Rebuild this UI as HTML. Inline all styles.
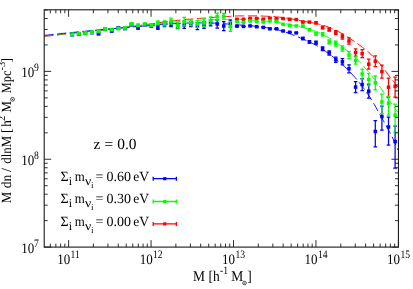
<!DOCTYPE html>
<html><head><meta charset="utf-8"><title>Halo mass function</title>
<style>
html,body{margin:0;padding:0;background:#fff;}
body{width:413px;height:289px;overflow:hidden;font-family:"Liberation Serif",serif;}
svg{display:block;}
svg text{font-family:"Liberation Serif",serif;fill:#000;text-rendering:geometricPrecision;}
</style></head>
<body>
<svg width="413" height="289" viewBox="0 0 413 289">
<rect width="413" height="289" fill="#fff"/>
<defs><clipPath id="c"><rect x="44.2" y="9.8" width="354.25" height="237.29999999999998"/></clipPath></defs>
<g clip-path="url(#c)">
<path d="M44.3,36.4 L45.8,36.2 L47.3,36.1 L48.7,35.9 L50.2,35.8 L51.7,35.6 L53.2,35.4 L54.7,35.3 L56.1,35.1 L57.6,35.0 L59.1,34.8 L60.6,34.6 L62.1,34.5 L63.5,34.3 L65.0,34.1 L66.5,33.9 L68.0,33.8 L69.5,33.6 L70.9,33.4 L72.4,33.3 L73.9,33.1 L75.4,32.9 L76.9,32.8 L78.3,32.6 L79.8,32.4 L81.3,32.3 L82.8,32.1 L84.3,32.0 L85.7,31.8 L87.2,31.7 L88.7,31.5 L90.2,31.4 L91.7,31.2 L93.1,31.0 L94.6,30.9 L96.1,30.7 L97.6,30.6 L99.1,30.4 L100.5,30.2 L102.0,30.1 L103.5,29.9 L105.0,29.7 L106.5,29.6 L107.9,29.4 L109.4,29.2 L110.9,29.1 L112.4,28.9 L113.9,28.7 L115.3,28.6 L116.8,28.4 L118.3,28.2 L119.8,28.0 L121.3,27.9 L122.7,27.7 L124.2,27.5 L125.7,27.3 L127.2,27.1 L128.7,26.9 L130.1,26.7 L131.6,26.5 L133.1,26.3 L134.6,26.1 L136.1,25.9 L137.5,25.7 L139.0,25.5 L140.5,25.3 L142.0,25.1 L143.5,24.9 L144.9,24.7 L146.4,24.5 L147.9,24.3 L149.4,24.1 L150.9,23.9 L152.3,23.7 L153.8,23.5 L155.3,23.3 L156.8,23.0 L158.3,22.8 L159.7,22.6 L161.2,22.4 L162.7,22.2 L164.2,22.0 L165.7,21.9 L167.1,21.7 L168.6,21.5 L170.1,21.3 L171.6,21.1 L173.1,20.9 L174.5,20.8 L176.0,20.6 L177.5,20.4 L179.0,20.2 L180.5,20.1 L181.9,19.9 L183.4,19.7 L184.9,19.6 L186.4,19.4 L187.9,19.3 L189.3,19.2 L190.8,19.1 L192.3,19.0 L193.8,18.8 L195.3,18.7 L196.7,18.6 L198.2,18.5 L199.7,18.4 L201.2,18.3 L202.7,18.2 L204.1,18.1 L205.6,18.0 L207.1,17.8 L208.6,17.7 L210.1,17.6 L211.5,17.5 L213.0,17.4 L214.5,17.3 L216.0,17.2 L217.5,17.1 L218.9,17.0 L220.4,16.9 L221.9,16.8 L223.4,16.8 L224.8,16.7 L226.3,16.6 L227.8,16.5 L229.3,16.4 L230.8,16.3 L232.2,16.2 L233.7,16.1 L235.2,16.0 L236.7,16.0 L238.2,15.9 L239.6,15.9 L241.1,15.9 L242.6,15.9 L244.1,15.9 L245.6,15.9 L247.0,15.9 L248.5,15.9 L250.0,15.9 L251.5,15.9 L253.0,15.9 L254.4,15.9 L255.9,15.9 L257.4,15.9 L258.9,15.9 L260.4,16.0 L261.8,16.0 L263.3,16.1 L264.8,16.2 L266.3,16.2 L267.8,16.3 L269.2,16.4 L270.7,16.4 L272.2,16.5 L273.7,16.6 L275.2,16.7 L276.6,16.9 L278.1,17.0 L279.6,17.2 L281.1,17.3 L282.6,17.5 L284.0,17.7 L285.5,17.9 L287.0,18.1 L288.5,18.3 L290.0,18.6 L291.4,18.8 L292.9,19.1 L294.4,19.4 L295.9,19.7 L297.4,20.0 L298.8,20.3 L300.3,20.6 L301.8,20.8 L303.3,21.1 L304.8,21.3 L306.2,21.6 L307.7,21.9 L309.2,22.1 L310.7,22.4 L312.2,22.7 L313.6,23.0 L315.1,23.3 L316.6,23.6 L318.1,24.0 L319.6,24.3 L321.0,24.7 L322.5,25.1 L324.0,25.6 L325.5,26.0 L327.0,26.5 L328.4,27.1 L329.9,27.6 L331.4,28.2 L332.9,28.9 L334.4,29.6 L335.8,30.3 L337.3,31.0 L338.8,31.8 L340.3,32.6 L341.8,33.4 L343.2,34.3 L344.7,35.2 L346.2,36.2 L347.7,37.2 L349.2,38.2 L350.6,39.1 L352.1,40.0 L353.6,40.9 L355.1,41.9 L356.6,42.9 L358.0,44.0 L359.5,45.1 L361.0,46.3 L362.5,47.4 L364.0,48.5 L365.4,49.7 L366.9,50.9 L368.4,52.1 L369.9,53.5 L371.4,54.8 L372.8,56.3 L374.3,57.7 L375.8,59.2 L377.3,60.8 L378.8,62.4 L380.2,64.0 L381.7,65.8 L383.2,67.8 L384.7,69.8 L386.2,71.8 L387.6,73.9 L389.1,75.9 L390.6,77.8 L392.1,79.6 L393.6,81.5 L395.0,83.5 L396.5,85.4 L398.0,87.3" stroke="#ff0000" stroke-width="0.95" fill="none" stroke-dasharray="9.2,3.6"/>
<path d="M44.3,35.9 L45.8,35.7 L47.3,35.6 L48.7,35.4 L50.2,35.3 L51.7,35.1 L53.2,34.9 L54.7,34.8 L56.1,34.6 L57.6,34.5 L59.1,34.3 L60.6,34.1 L62.1,34.0 L63.5,33.8 L65.0,33.7 L66.5,33.5 L68.0,33.3 L69.5,33.2 L70.9,33.0 L72.4,32.9 L73.9,32.7 L75.4,32.5 L76.9,32.4 L78.3,32.2 L79.8,32.1 L81.3,31.9 L82.8,31.8 L84.3,31.6 L85.7,31.5 L87.2,31.3 L88.7,31.2 L90.2,31.0 L91.7,30.9 L93.1,30.7 L94.6,30.6 L96.1,30.4 L97.6,30.3 L99.1,30.1 L100.5,29.9 L102.0,29.8 L103.5,29.6 L105.0,29.5 L106.5,29.3 L107.9,29.2 L109.4,29.0 L110.9,28.9 L112.4,28.7 L113.9,28.6 L115.3,28.4 L116.8,28.3 L118.3,28.1 L119.8,27.9 L121.3,27.8 L122.7,27.6 L124.2,27.5 L125.7,27.3 L127.2,27.2 L128.7,27.0 L130.1,26.9 L131.6,26.7 L133.1,26.6 L134.6,26.4 L136.1,26.3 L137.5,26.1 L139.0,26.0 L140.5,25.8 L142.0,25.7 L143.5,25.5 L144.9,25.4 L146.4,25.2 L147.9,25.0 L149.4,24.9 L150.9,24.7 L152.3,24.5 L153.8,24.3 L155.3,24.2 L156.8,24.0 L158.3,23.8 L159.7,23.6 L161.2,23.5 L162.7,23.3 L164.2,23.2 L165.7,23.0 L167.1,22.9 L168.6,22.7 L170.1,22.6 L171.6,22.4 L173.1,22.3 L174.5,22.1 L176.0,22.0 L177.5,21.9 L179.0,21.7 L180.5,21.6 L181.9,21.5 L183.4,21.4 L184.9,21.2 L186.4,21.1 L187.9,21.0 L189.3,20.9 L190.8,20.8 L192.3,20.7 L193.8,20.6 L195.3,20.5 L196.7,20.5 L198.2,20.4 L199.7,20.3 L201.2,20.2 L202.7,20.2 L204.1,20.1 L205.6,20.1 L207.1,20.0 L208.6,19.9 L210.1,19.9 L211.5,19.8 L213.0,19.8 L214.5,19.8 L216.0,19.7 L217.5,19.7 L218.9,19.6 L220.4,19.6 L221.9,19.6 L223.4,19.5 L224.8,19.5 L226.3,19.5 L227.8,19.5 L229.3,19.5 L230.8,19.5 L232.2,19.5 L233.7,19.5 L235.2,19.5 L236.7,19.6 L238.2,19.6 L239.6,19.6 L241.1,19.6 L242.6,19.7 L244.1,19.7 L245.6,19.7 L247.0,19.8 L248.5,19.9 L250.0,19.9 L251.5,20.0 L253.0,20.1 L254.4,20.2 L255.9,20.3 L257.4,20.4 L258.9,20.5 L260.4,20.6 L261.8,20.7 L263.3,20.9 L264.8,21.0 L266.3,21.2 L267.8,21.4 L269.2,21.5 L270.7,21.7 L272.2,21.8 L273.7,22.0 L275.2,22.2 L276.6,22.4 L278.1,22.6 L279.6,22.8 L281.1,23.0 L282.6,23.2 L284.0,23.4 L285.5,23.7 L287.0,23.9 L288.5,24.2 L290.0,24.5 L291.4,24.8 L292.9,25.1 L294.4,25.5 L295.9,25.8 L297.4,26.2 L298.8,26.5 L300.3,26.9 L301.8,27.2 L303.3,27.6 L304.8,28.0 L306.2,28.4 L307.7,28.8 L309.2,29.2 L310.7,29.6 L312.2,30.1 L313.6,30.6 L315.1,31.1 L316.6,31.6 L318.1,32.2 L319.6,32.8 L321.0,33.5 L322.5,34.3 L324.0,35.1 L325.5,35.9 L327.0,36.7 L328.4,37.5 L329.9,38.4 L331.4,39.3 L332.9,40.3 L334.4,41.3 L335.8,42.3 L337.3,43.3 L338.8,44.4 L340.3,45.4 L341.8,46.5 L343.2,47.6 L344.7,48.8 L346.2,49.9 L347.7,51.1 L349.2,52.3 L350.6,53.6 L352.1,54.8 L353.6,56.2 L355.1,57.5 L356.6,58.9 L358.0,60.4 L359.5,61.9 L361.0,63.5 L362.5,65.1 L364.0,66.7 L365.4,68.4 L366.9,70.1 L368.4,71.8 L369.9,73.6 L371.4,75.4 L372.8,77.2 L374.3,79.1 L375.8,81.0 L377.3,83.0 L378.8,85.0 L380.2,87.2 L381.7,89.4 L383.2,91.6 L384.7,93.9 L386.2,96.1 L387.6,98.3 L389.1,100.4 L390.6,102.4 L392.1,104.5 L393.6,106.5 L395.0,108.5 L396.5,110.5 L398.0,112.5" stroke="#00ff00" stroke-width="0.95" fill="none" stroke-dasharray="9.2,3.6"/>
<path d="M44.3,35.4 L45.8,35.2 L47.3,35.1 L48.7,34.9 L50.2,34.8 L51.7,34.6 L53.2,34.4 L54.7,34.3 L56.1,34.1 L57.6,34.0 L59.1,33.8 L60.6,33.6 L62.1,33.5 L63.5,33.3 L65.0,33.2 L66.5,33.0 L68.0,32.9 L69.5,32.8 L70.9,32.6 L72.4,32.5 L73.9,32.3 L75.4,32.2 L76.9,32.0 L78.3,31.9 L79.8,31.7 L81.3,31.6 L82.8,31.4 L84.3,31.3 L85.7,31.2 L87.2,31.0 L88.7,30.9 L90.2,30.7 L91.7,30.6 L93.1,30.4 L94.6,30.3 L96.1,30.2 L97.6,30.0 L99.1,29.9 L100.5,29.8 L102.0,29.6 L103.5,29.5 L105.0,29.3 L106.5,29.2 L107.9,29.1 L109.4,28.9 L110.9,28.8 L112.4,28.7 L113.9,28.6 L115.3,28.4 L116.8,28.3 L118.3,28.2 L119.8,28.0 L121.3,27.9 L122.7,27.8 L124.2,27.7 L125.7,27.5 L127.2,27.4 L128.7,27.3 L130.1,27.2 L131.6,27.1 L133.1,27.0 L134.6,26.8 L136.1,26.7 L137.5,26.6 L139.0,26.5 L140.5,26.4 L142.0,26.3 L143.5,26.2 L144.9,26.0 L146.4,25.9 L147.9,25.8 L149.4,25.7 L150.9,25.5 L152.3,25.4 L153.8,25.2 L155.3,25.1 L156.8,24.9 L158.3,24.8 L159.7,24.6 L161.2,24.5 L162.7,24.4 L164.2,24.3 L165.7,24.2 L167.1,24.1 L168.6,24.0 L170.1,23.9 L171.6,23.8 L173.1,23.7 L174.5,23.6 L176.0,23.5 L177.5,23.5 L179.0,23.4 L180.5,23.3 L181.9,23.3 L183.4,23.2 L184.9,23.1 L186.4,23.1 L187.9,23.0 L189.3,23.0 L190.8,23.0 L192.3,23.0 L193.8,23.0 L195.3,22.9 L196.7,22.9 L198.2,22.9 L199.7,22.9 L201.2,22.9 L202.7,22.9 L204.1,22.9 L205.6,22.9 L207.1,22.9 L208.6,22.9 L210.1,23.0 L211.5,23.0 L213.0,23.1 L214.5,23.1 L216.0,23.2 L217.5,23.3 L218.9,23.3 L220.4,23.4 L221.9,23.5 L223.4,23.6 L224.8,23.7 L226.3,23.9 L227.8,24.0 L229.3,24.2 L230.8,24.3 L232.2,24.5 L233.7,24.6 L235.2,24.7 L236.7,24.8 L238.2,24.9 L239.6,25.0 L241.1,25.1 L242.6,25.2 L244.1,25.3 L245.6,25.4 L247.0,25.5 L248.5,25.6 L250.0,25.7 L251.5,25.8 L253.0,26.0 L254.4,26.1 L255.9,26.3 L257.4,26.4 L258.9,26.6 L260.4,26.8 L261.8,27.0 L263.3,27.2 L264.8,27.4 L266.3,27.6 L267.8,27.8 L269.2,28.1 L270.7,28.4 L272.2,28.7 L273.7,29.0 L275.2,29.3 L276.6,29.7 L278.1,30.0 L279.6,30.4 L281.1,30.8 L282.6,31.2 L284.0,31.7 L285.5,32.2 L287.0,32.7 L288.5,33.2 L290.0,33.8 L291.4,34.4 L292.9,34.9 L294.4,35.5 L295.9,36.1 L297.4,36.7 L298.8,37.3 L300.3,38.0 L301.8,38.6 L303.3,39.2 L304.8,39.8 L306.2,40.5 L307.7,41.2 L309.2,41.8 L310.7,42.5 L312.2,43.3 L313.6,44.0 L315.1,44.8 L316.6,45.6 L318.1,46.4 L319.6,47.3 L321.0,48.3 L322.5,49.3 L324.0,50.3 L325.5,51.3 L327.0,52.4 L328.4,53.4 L329.9,54.5 L331.4,55.6 L332.9,56.8 L334.4,57.9 L335.8,59.1 L337.3,60.3 L338.8,61.6 L340.3,62.8 L341.8,64.1 L343.2,65.5 L344.7,66.8 L346.2,68.2 L347.7,69.7 L349.2,71.2 L350.6,72.7 L352.1,74.2 L353.6,75.9 L355.1,77.5 L356.6,79.3 L358.0,81.0 L359.5,82.9 L361.0,84.8 L362.5,86.8 L364.0,88.8 L365.4,90.8 L366.9,93.0 L368.4,95.1 L369.9,97.4 L371.4,99.6 L372.8,102.0 L374.3,104.5 L375.8,107.1 L377.3,109.8 L378.8,112.5 L380.2,115.1 L381.7,117.8 L383.2,120.4 L384.7,123.0 L386.2,125.6 L387.6,128.3 L389.1,131.1 L390.6,134.0 L392.1,136.9 L393.6,139.9 L395.0,143.1 L396.5,146.5 L398.0,150.0" stroke="#0000ff" stroke-width="0.95" fill="none" stroke-dasharray="9.2,3.6"/>
<path d="M234.8,19.3h4.2" stroke="#ff0000" stroke-width="1.4" fill="none"/>
<rect x="235.20" y="17.55" width="3.5" height="3.5" fill="#ff0000"/>
<path d="M241.4,19.3h4.2" stroke="#ff0000" stroke-width="1.4" fill="none"/>
<rect x="241.79" y="17.55" width="3.5" height="3.5" fill="#ff0000"/>
<path d="M248.0,18.5h4.2" stroke="#ff0000" stroke-width="1.4" fill="none"/>
<rect x="248.38" y="16.75" width="3.5" height="3.5" fill="#ff0000"/>
<path d="M254.6,18.5h4.2" stroke="#ff0000" stroke-width="1.4" fill="none"/>
<rect x="254.97" y="16.75" width="3.5" height="3.5" fill="#ff0000"/>
<path d="M261.2,19.2h4.2" stroke="#ff0000" stroke-width="1.4" fill="none"/>
<rect x="261.56" y="17.45" width="3.5" height="3.5" fill="#ff0000"/>
<path d="M267.8,18.2h4.2" stroke="#ff0000" stroke-width="1.4" fill="none"/>
<rect x="268.15" y="16.45" width="3.5" height="3.5" fill="#ff0000"/>
<path d="M274.4,18.8h4.2" stroke="#ff0000" stroke-width="1.4" fill="none"/>
<rect x="274.74" y="17.05" width="3.5" height="3.5" fill="#ff0000"/>
<path d="M281.0,18.6h4.2" stroke="#ff0000" stroke-width="1.4" fill="none"/>
<rect x="281.33" y="16.85" width="3.5" height="3.5" fill="#ff0000"/>
<path d="M287.6,19.3h4.2" stroke="#ff0000" stroke-width="1.4" fill="none"/>
<rect x="287.92" y="17.55" width="3.5" height="3.5" fill="#ff0000"/>
<path d="M294.2,19.6h4.2" stroke="#ff0000" stroke-width="1.4" fill="none"/>
<rect x="294.51" y="17.85" width="3.5" height="3.5" fill="#ff0000"/>
<path d="M300.8,22.1h4.2" stroke="#ff0000" stroke-width="1.4" fill="none"/>
<rect x="301.10" y="20.35" width="3.5" height="3.5" fill="#ff0000"/>
<path d="M307.3,22.1h4.2" stroke="#ff0000" stroke-width="1.4" fill="none"/>
<rect x="307.69" y="20.35" width="3.5" height="3.5" fill="#ff0000"/>
<path d="M316.0,21.8V23.8M314.2,21.8h3.6M314.2,23.8h3.6" stroke="#ff0000" stroke-width="1.25" fill="none"/>
<rect x="314.28" y="21.05" width="3.5" height="3.5" fill="#ff0000"/>
<path d="M322.6,26.2V28.8M320.8,26.2h3.6M320.8,28.8h3.6" stroke="#ff0000" stroke-width="1.25" fill="none"/>
<rect x="320.87" y="25.75" width="3.5" height="3.5" fill="#ff0000"/>
<path d="M329.2,27.9V31.1M327.4,27.9h3.6M327.4,31.1h3.6" stroke="#ff0000" stroke-width="1.25" fill="none"/>
<rect x="327.46" y="27.75" width="3.5" height="3.5" fill="#ff0000"/>
<path d="M335.8,30.6V34.6M334.0,30.6h3.6M334.0,34.6h3.6" stroke="#ff0000" stroke-width="1.25" fill="none"/>
<rect x="334.05" y="30.85" width="3.5" height="3.5" fill="#ff0000"/>
<path d="M342.4,34.0V39.2M340.6,34.0h3.6M340.6,39.2h3.6" stroke="#ff0000" stroke-width="1.25" fill="none"/>
<rect x="340.64" y="34.85" width="3.5" height="3.5" fill="#ff0000"/>
<path d="M349.0,37.8V44.2M347.2,37.8h3.6M347.2,44.2h3.6" stroke="#ff0000" stroke-width="1.25" fill="none"/>
<rect x="347.23" y="39.25" width="3.5" height="3.5" fill="#ff0000"/>
<path d="M355.6,48.8V56.2M353.8,48.8h3.6M353.8,56.2h3.6" stroke="#ff0000" stroke-width="1.25" fill="none"/>
<rect x="353.82" y="50.75" width="3.5" height="3.5" fill="#ff0000"/>
<path d="M362.2,49.7V57.7M360.4,49.7h3.6M360.4,57.7h3.6" stroke="#ff0000" stroke-width="1.25" fill="none"/>
<rect x="360.41" y="51.95" width="3.5" height="3.5" fill="#ff0000"/>
<path d="M368.8,59.2V69.2M366.9,59.2h3.6M366.9,69.2h3.6" stroke="#ff0000" stroke-width="1.25" fill="none"/>
<rect x="367.00" y="62.45" width="3.5" height="3.5" fill="#ff0000"/>
<path d="M375.3,55.8V66.6M373.5,55.8h3.6M373.5,66.6h3.6" stroke="#ff0000" stroke-width="1.25" fill="none"/>
<rect x="373.59" y="59.45" width="3.5" height="3.5" fill="#ff0000"/>
<path d="M381.9,65.1V78.1M380.1,65.1h3.6M380.1,78.1h3.6" stroke="#ff0000" stroke-width="1.25" fill="none"/>
<rect x="380.18" y="69.85" width="3.5" height="3.5" fill="#ff0000"/>
<path d="M388.5,78.0V97.2M386.7,78.0h3.6M386.7,97.2h3.6" stroke="#ff0000" stroke-width="1.25" fill="none"/>
<rect x="386.77" y="85.45" width="3.5" height="3.5" fill="#ff0000"/>
<path d="M395.1,77.0V97.0M393.3,77.0h3.6M393.3,97.0h3.6" stroke="#ff0000" stroke-width="1.25" fill="none"/>
<rect x="393.36" y="84.55" width="3.5" height="3.5" fill="#ff0000"/>
<rect x="70.25" y="32.65" width="3.9" height="3.9" fill="#0000ff"/>
<rect x="76.84" y="32.05" width="3.9" height="3.9" fill="#0000ff"/>
<rect x="83.43" y="31.35" width="3.9" height="3.9" fill="#0000ff"/>
<rect x="90.02" y="30.55" width="3.9" height="3.9" fill="#0000ff"/>
<rect x="96.61" y="31.75" width="3.9" height="3.9" fill="#0000ff"/>
<rect x="103.20" y="27.35" width="3.9" height="3.9" fill="#0000ff"/>
<rect x="109.79" y="28.95" width="3.9" height="3.9" fill="#0000ff"/>
<rect x="116.38" y="26.05" width="3.9" height="3.9" fill="#0000ff"/>
<rect x="122.97" y="26.45" width="3.9" height="3.9" fill="#0000ff"/>
<rect x="129.56" y="22.75" width="3.9" height="3.9" fill="#0000ff"/>
<path d="M138.1,27.0V29.0M136.3,27.0h3.6M136.3,29.0h3.6" stroke="#0000ff" stroke-width="1.25" fill="none"/>
<rect x="136.35" y="26.25" width="3.5" height="3.5" fill="#0000ff"/>
<path d="M144.7,23.7V25.7M142.9,23.7h3.6M142.9,25.7h3.6" stroke="#0000ff" stroke-width="1.25" fill="none"/>
<rect x="142.94" y="22.95" width="3.5" height="3.5" fill="#0000ff"/>
<path d="M151.3,24.9V26.9M149.5,24.9h3.6M149.5,26.9h3.6" stroke="#0000ff" stroke-width="1.25" fill="none"/>
<rect x="149.53" y="24.15" width="3.5" height="3.5" fill="#0000ff"/>
<path d="M157.9,25.3V29.3M156.1,25.3h3.6M156.1,29.3h3.6" stroke="#0000ff" stroke-width="1.25" fill="none"/>
<rect x="156.12" y="25.55" width="3.5" height="3.5" fill="#0000ff"/>
<path d="M164.5,22.1V26.7M162.7,22.1h3.6M162.7,26.7h3.6" stroke="#0000ff" stroke-width="1.25" fill="none"/>
<rect x="162.71" y="22.65" width="3.5" height="3.5" fill="#0000ff"/>
<path d="M171.1,22.2V26.6M169.2,22.2h3.6M169.2,26.6h3.6" stroke="#0000ff" stroke-width="1.25" fill="none"/>
<rect x="169.30" y="22.65" width="3.5" height="3.5" fill="#0000ff"/>
<path d="M177.6,23.5V28.5M175.8,23.5h3.6M175.8,28.5h3.6" stroke="#0000ff" stroke-width="1.25" fill="none"/>
<rect x="175.89" y="24.25" width="3.5" height="3.5" fill="#0000ff"/>
<path d="M184.2,21.6V28.4M182.4,21.6h3.6M182.4,28.4h3.6" stroke="#0000ff" stroke-width="1.25" fill="none"/>
<rect x="182.48" y="23.25" width="3.5" height="3.5" fill="#0000ff"/>
<path d="M190.8,21.7V26.7M189.0,21.7h3.6M189.0,26.7h3.6" stroke="#0000ff" stroke-width="1.25" fill="none"/>
<rect x="189.07" y="22.45" width="3.5" height="3.5" fill="#0000ff"/>
<path d="M197.4,22.5V29.5M195.6,22.5h3.6M195.6,29.5h3.6" stroke="#0000ff" stroke-width="1.25" fill="none"/>
<rect x="195.66" y="24.25" width="3.5" height="3.5" fill="#0000ff"/>
<path d="M204.0,21.7V28.3M202.2,21.7h3.6M202.2,28.3h3.6" stroke="#0000ff" stroke-width="1.25" fill="none"/>
<rect x="202.25" y="23.25" width="3.5" height="3.5" fill="#0000ff"/>
<path d="M210.6,19.8V25.8M208.8,19.8h3.6M208.8,25.8h3.6" stroke="#0000ff" stroke-width="1.25" fill="none"/>
<rect x="208.84" y="21.05" width="3.5" height="3.5" fill="#0000ff"/>
<path d="M217.2,20.0V28.0M215.4,20.0h3.6M215.4,28.0h3.6" stroke="#0000ff" stroke-width="1.25" fill="none"/>
<rect x="215.43" y="22.25" width="3.5" height="3.5" fill="#0000ff"/>
<path d="M223.8,21.5V30.5M222.0,21.5h3.6M222.0,30.5h3.6" stroke="#0000ff" stroke-width="1.25" fill="none"/>
<rect x="222.02" y="24.25" width="3.5" height="3.5" fill="#0000ff"/>
<path d="M230.4,20.0V26.8M228.6,20.0h3.6M228.6,26.8h3.6" stroke="#0000ff" stroke-width="1.25" fill="none"/>
<rect x="228.61" y="21.65" width="3.5" height="3.5" fill="#0000ff"/>
<path d="M234.8,26.2h4.2" stroke="#0000ff" stroke-width="1.4" fill="none"/>
<rect x="235.20" y="24.45" width="3.5" height="3.5" fill="#0000ff"/>
<path d="M241.4,26.4h4.2" stroke="#0000ff" stroke-width="1.4" fill="none"/>
<rect x="241.79" y="24.65" width="3.5" height="3.5" fill="#0000ff"/>
<path d="M248.0,25.9h4.2" stroke="#0000ff" stroke-width="1.4" fill="none"/>
<rect x="248.38" y="24.15" width="3.5" height="3.5" fill="#0000ff"/>
<path d="M254.6,26.7h4.2" stroke="#0000ff" stroke-width="1.4" fill="none"/>
<rect x="254.97" y="24.95" width="3.5" height="3.5" fill="#0000ff"/>
<path d="M261.2,27.4h4.2" stroke="#0000ff" stroke-width="1.4" fill="none"/>
<rect x="261.56" y="25.65" width="3.5" height="3.5" fill="#0000ff"/>
<path d="M267.8,28.8h4.2" stroke="#0000ff" stroke-width="1.4" fill="none"/>
<rect x="268.15" y="27.05" width="3.5" height="3.5" fill="#0000ff"/>
<path d="M274.4,28.8h4.2" stroke="#0000ff" stroke-width="1.4" fill="none"/>
<rect x="274.74" y="27.05" width="3.5" height="3.5" fill="#0000ff"/>
<path d="M281.0,31.0h4.2" stroke="#0000ff" stroke-width="1.4" fill="none"/>
<rect x="281.33" y="29.25" width="3.5" height="3.5" fill="#0000ff"/>
<path d="M287.6,32.3h4.2" stroke="#0000ff" stroke-width="1.4" fill="none"/>
<rect x="287.92" y="30.55" width="3.5" height="3.5" fill="#0000ff"/>
<path d="M294.2,32.9h4.2" stroke="#0000ff" stroke-width="1.4" fill="none"/>
<rect x="294.51" y="31.15" width="3.5" height="3.5" fill="#0000ff"/>
<path d="M302.9,37.4V39.6M301.1,37.4h3.6M301.1,39.6h3.6" stroke="#0000ff" stroke-width="1.25" fill="none"/>
<rect x="301.10" y="36.75" width="3.5" height="3.5" fill="#0000ff"/>
<path d="M309.4,40.6V43.2M307.6,40.6h3.6M307.6,43.2h3.6" stroke="#0000ff" stroke-width="1.25" fill="none"/>
<rect x="307.69" y="40.15" width="3.5" height="3.5" fill="#0000ff"/>
<path d="M316.0,41.2V44.2M314.2,41.2h3.6M314.2,44.2h3.6" stroke="#0000ff" stroke-width="1.25" fill="none"/>
<rect x="314.28" y="40.95" width="3.5" height="3.5" fill="#0000ff"/>
<path d="M322.6,46.9V50.5M320.8,46.9h3.6M320.8,50.5h3.6" stroke="#0000ff" stroke-width="1.25" fill="none"/>
<rect x="320.87" y="46.95" width="3.5" height="3.5" fill="#0000ff"/>
<path d="M329.2,50.8V55.0M327.4,50.8h3.6M327.4,55.0h3.6" stroke="#0000ff" stroke-width="1.25" fill="none"/>
<rect x="327.46" y="51.15" width="3.5" height="3.5" fill="#0000ff"/>
<path d="M335.8,57.1V62.3M334.0,57.1h3.6M334.0,62.3h3.6" stroke="#0000ff" stroke-width="1.25" fill="none"/>
<rect x="334.05" y="57.95" width="3.5" height="3.5" fill="#0000ff"/>
<path d="M342.4,58.7V64.9M340.6,58.7h3.6M340.6,64.9h3.6" stroke="#0000ff" stroke-width="1.25" fill="none"/>
<rect x="340.64" y="60.05" width="3.5" height="3.5" fill="#0000ff"/>
<path d="M349.0,64.8V72.8M347.2,64.8h3.6M347.2,72.8h3.6" stroke="#0000ff" stroke-width="1.25" fill="none"/>
<rect x="347.23" y="67.05" width="3.5" height="3.5" fill="#0000ff"/>
<path d="M355.6,81.6V92.6M353.8,81.6h3.6M353.8,92.6h3.6" stroke="#0000ff" stroke-width="1.25" fill="none"/>
<rect x="353.82" y="85.35" width="3.5" height="3.5" fill="#0000ff"/>
<path d="M362.2,78.6V90.6M360.4,78.6h3.6M360.4,90.6h3.6" stroke="#0000ff" stroke-width="1.25" fill="none"/>
<rect x="360.41" y="82.85" width="3.5" height="3.5" fill="#0000ff"/>
<path d="M368.8,84.2V98.2M366.9,84.2h3.6M366.9,98.2h3.6" stroke="#0000ff" stroke-width="1.25" fill="none"/>
<rect x="367.00" y="89.45" width="3.5" height="3.5" fill="#0000ff"/>
<path d="M375.3,120.6V146.8M373.5,120.6h3.6M373.5,146.8h3.6" stroke="#0000ff" stroke-width="1.25" fill="none"/>
<rect x="373.59" y="129.75" width="3.5" height="3.5" fill="#0000ff"/>
<path d="M381.9,106.0V130.0M380.1,106.0h3.6M380.1,130.0h3.6" stroke="#0000ff" stroke-width="1.25" fill="none"/>
<rect x="380.18" y="114.85" width="3.5" height="3.5" fill="#0000ff"/>
<path d="M388.5,117.0V145.0M386.7,117.0h3.6M386.7,145.0h3.6" stroke="#0000ff" stroke-width="1.25" fill="none"/>
<rect x="386.77" y="125.25" width="3.5" height="3.5" fill="#0000ff"/>
<path d="M395.1,126.0V168.2M393.3,126.0h3.6M393.3,168.2h3.6" stroke="#0000ff" stroke-width="1.25" fill="none"/>
<rect x="393.36" y="139.85" width="3.5" height="3.5" fill="#0000ff"/>
<rect x="70.25" y="32.35" width="3.9" height="3.9" fill="#00ff00"/>
<rect x="76.84" y="31.75" width="3.9" height="3.9" fill="#00ff00"/>
<rect x="83.43" y="31.05" width="3.9" height="3.9" fill="#00ff00"/>
<rect x="90.02" y="30.25" width="3.9" height="3.9" fill="#00ff00"/>
<rect x="96.61" y="29.45" width="3.9" height="3.9" fill="#00ff00"/>
<rect x="103.20" y="26.95" width="3.9" height="3.9" fill="#00ff00"/>
<rect x="109.79" y="27.65" width="3.9" height="3.9" fill="#00ff00"/>
<rect x="116.38" y="26.55" width="3.9" height="3.9" fill="#00ff00"/>
<rect x="122.97" y="25.95" width="3.9" height="3.9" fill="#00ff00"/>
<rect x="129.56" y="21.95" width="3.9" height="3.9" fill="#00ff00"/>
<path d="M138.1,24.0V26.4M136.3,24.0h3.6M136.3,26.4h3.6" stroke="#00ff00" stroke-width="1.25" fill="none"/>
<rect x="136.35" y="23.45" width="3.5" height="3.5" fill="#00ff00"/>
<path d="M144.7,22.9V24.9M142.9,22.9h3.6M142.9,24.9h3.6" stroke="#00ff00" stroke-width="1.25" fill="none"/>
<rect x="142.94" y="22.15" width="3.5" height="3.5" fill="#00ff00"/>
<path d="M151.3,24.3V26.3M149.5,24.3h3.6M149.5,26.3h3.6" stroke="#00ff00" stroke-width="1.25" fill="none"/>
<rect x="149.53" y="23.55" width="3.5" height="3.5" fill="#00ff00"/>
<path d="M157.9,20.8V24.8M156.1,20.8h3.6M156.1,24.8h3.6" stroke="#00ff00" stroke-width="1.25" fill="none"/>
<rect x="156.12" y="21.05" width="3.5" height="3.5" fill="#00ff00"/>
<path d="M164.5,20.8V25.8M162.7,20.8h3.6M162.7,25.8h3.6" stroke="#00ff00" stroke-width="1.25" fill="none"/>
<rect x="162.71" y="21.55" width="3.5" height="3.5" fill="#00ff00"/>
<path d="M171.1,18.0V24.0M169.2,18.0h3.6M169.2,24.0h3.6" stroke="#00ff00" stroke-width="1.25" fill="none"/>
<rect x="169.30" y="19.25" width="3.5" height="3.5" fill="#00ff00"/>
<path d="M177.6,22.4V28.0M175.8,22.4h3.6M175.8,28.0h3.6" stroke="#00ff00" stroke-width="1.25" fill="none"/>
<rect x="175.89" y="23.45" width="3.5" height="3.5" fill="#00ff00"/>
<path d="M184.2,17.3V25.9M182.4,17.3h3.6M182.4,25.9h3.6" stroke="#00ff00" stroke-width="1.25" fill="none"/>
<rect x="182.48" y="19.85" width="3.5" height="3.5" fill="#00ff00"/>
<path d="M190.8,19.7V25.5M189.0,19.7h3.6M189.0,25.5h3.6" stroke="#00ff00" stroke-width="1.25" fill="none"/>
<rect x="189.07" y="20.85" width="3.5" height="3.5" fill="#00ff00"/>
<path d="M197.4,20.4V27.6M195.6,20.4h3.6M195.6,27.6h3.6" stroke="#00ff00" stroke-width="1.25" fill="none"/>
<rect x="195.66" y="22.25" width="3.5" height="3.5" fill="#00ff00"/>
<path d="M204.0,18.8V26.8M202.2,18.8h3.6M202.2,26.8h3.6" stroke="#00ff00" stroke-width="1.25" fill="none"/>
<rect x="202.25" y="21.05" width="3.5" height="3.5" fill="#00ff00"/>
<path d="M210.6,16.8V24.0M208.8,16.8h3.6M208.8,24.0h3.6" stroke="#00ff00" stroke-width="1.25" fill="none"/>
<rect x="208.84" y="18.65" width="3.5" height="3.5" fill="#00ff00"/>
<path d="M217.2,13.2V20.0M215.4,13.2h3.6M215.4,20.0h3.6" stroke="#00ff00" stroke-width="1.25" fill="none"/>
<rect x="215.43" y="14.85" width="3.5" height="3.5" fill="#00ff00"/>
<path d="M223.8,13.3V19.1M222.0,13.3h3.6M222.0,19.1h3.6" stroke="#00ff00" stroke-width="1.25" fill="none"/>
<rect x="222.02" y="14.45" width="3.5" height="3.5" fill="#00ff00"/>
<path d="M230.4,21.5V31.3M228.6,21.5h3.6M228.6,31.3h3.6" stroke="#00ff00" stroke-width="1.25" fill="none"/>
<rect x="228.61" y="24.65" width="3.5" height="3.5" fill="#00ff00"/>
<path d="M234.8,21.6h4.2" stroke="#00ff00" stroke-width="1.4" fill="none"/>
<rect x="235.20" y="19.85" width="3.5" height="3.5" fill="#00ff00"/>
<path d="M241.4,22.3h4.2" stroke="#00ff00" stroke-width="1.4" fill="none"/>
<rect x="241.79" y="20.55" width="3.5" height="3.5" fill="#00ff00"/>
<path d="M248.0,21.0h4.2" stroke="#00ff00" stroke-width="1.4" fill="none"/>
<rect x="248.38" y="19.25" width="3.5" height="3.5" fill="#00ff00"/>
<path d="M254.6,21.6h4.2" stroke="#00ff00" stroke-width="1.4" fill="none"/>
<rect x="254.97" y="19.85" width="3.5" height="3.5" fill="#00ff00"/>
<path d="M261.2,22.1h4.2" stroke="#00ff00" stroke-width="1.4" fill="none"/>
<rect x="261.56" y="20.35" width="3.5" height="3.5" fill="#00ff00"/>
<path d="M267.8,21.0h4.2" stroke="#00ff00" stroke-width="1.4" fill="none"/>
<rect x="268.15" y="19.25" width="3.5" height="3.5" fill="#00ff00"/>
<path d="M274.4,21.3h4.2" stroke="#00ff00" stroke-width="1.4" fill="none"/>
<rect x="274.74" y="19.55" width="3.5" height="3.5" fill="#00ff00"/>
<path d="M281.0,24.3h4.2" stroke="#00ff00" stroke-width="1.4" fill="none"/>
<rect x="281.33" y="22.55" width="3.5" height="3.5" fill="#00ff00"/>
<path d="M287.6,25.3h4.2" stroke="#00ff00" stroke-width="1.4" fill="none"/>
<rect x="287.92" y="23.55" width="3.5" height="3.5" fill="#00ff00"/>
<path d="M294.2,25.9h4.2" stroke="#00ff00" stroke-width="1.4" fill="none"/>
<rect x="294.51" y="24.15" width="3.5" height="3.5" fill="#00ff00"/>
<path d="M302.9,25.2V27.2M301.1,25.2h3.6M301.1,27.2h3.6" stroke="#00ff00" stroke-width="1.25" fill="none"/>
<rect x="301.10" y="24.45" width="3.5" height="3.5" fill="#00ff00"/>
<path d="M309.4,28.5V30.9M307.6,28.5h3.6M307.6,30.9h3.6" stroke="#00ff00" stroke-width="1.25" fill="none"/>
<rect x="307.69" y="27.95" width="3.5" height="3.5" fill="#00ff00"/>
<path d="M316.0,32.4V35.2M314.2,32.4h3.6M314.2,35.2h3.6" stroke="#00ff00" stroke-width="1.25" fill="none"/>
<rect x="314.28" y="32.05" width="3.5" height="3.5" fill="#00ff00"/>
<path d="M322.6,32.6V36.0M320.8,32.6h3.6M320.8,36.0h3.6" stroke="#00ff00" stroke-width="1.25" fill="none"/>
<rect x="320.87" y="32.55" width="3.5" height="3.5" fill="#00ff00"/>
<path d="M329.2,39.9V43.9M327.4,39.9h3.6M327.4,43.9h3.6" stroke="#00ff00" stroke-width="1.25" fill="none"/>
<rect x="327.46" y="40.15" width="3.5" height="3.5" fill="#00ff00"/>
<path d="M335.8,41.0V46.0M334.0,41.0h3.6M334.0,46.0h3.6" stroke="#00ff00" stroke-width="1.25" fill="none"/>
<rect x="334.05" y="41.75" width="3.5" height="3.5" fill="#00ff00"/>
<path d="M342.4,45.8V51.2M340.6,45.8h3.6M340.6,51.2h3.6" stroke="#00ff00" stroke-width="1.25" fill="none"/>
<rect x="340.64" y="46.75" width="3.5" height="3.5" fill="#00ff00"/>
<path d="M349.0,51.5V58.7M347.2,51.5h3.6M347.2,58.7h3.6" stroke="#00ff00" stroke-width="1.25" fill="none"/>
<rect x="347.23" y="53.35" width="3.5" height="3.5" fill="#00ff00"/>
<path d="M355.6,56.8V64.2M353.8,56.8h3.6M353.8,64.2h3.6" stroke="#00ff00" stroke-width="1.25" fill="none"/>
<rect x="353.82" y="58.75" width="3.5" height="3.5" fill="#00ff00"/>
<path d="M362.2,69.0V79.0M360.4,69.0h3.6M360.4,79.0h3.6" stroke="#00ff00" stroke-width="1.25" fill="none"/>
<rect x="360.41" y="72.25" width="3.5" height="3.5" fill="#00ff00"/>
<path d="M368.8,73.5V85.5M366.9,73.5h3.6M366.9,85.5h3.6" stroke="#00ff00" stroke-width="1.25" fill="none"/>
<rect x="367.00" y="77.75" width="3.5" height="3.5" fill="#00ff00"/>
<path d="M375.3,75.8V89.8M373.5,75.8h3.6M373.5,89.8h3.6" stroke="#00ff00" stroke-width="1.25" fill="none"/>
<rect x="373.59" y="81.05" width="3.5" height="3.5" fill="#00ff00"/>
<path d="M381.9,94.1V113.6M380.1,94.1h3.6M380.1,113.6h3.6" stroke="#00ff00" stroke-width="1.25" fill="none"/>
<rect x="380.18" y="100.25" width="3.5" height="3.5" fill="#00ff00"/>
<path d="M388.5,96.0V115.0M386.7,96.0h3.6M386.7,115.0h3.6" stroke="#00ff00" stroke-width="1.25" fill="none"/>
<rect x="386.77" y="101.45" width="3.5" height="3.5" fill="#00ff00"/>
<path d="M395.1,104.0V132.0M393.3,104.0h3.6M393.3,132.0h3.6" stroke="#00ff00" stroke-width="1.25" fill="none"/>
<rect x="393.36" y="113.45" width="3.5" height="3.5" fill="#00ff00"/>
</g>
<path d="M50.31,247.1v-3.5M50.31,9.8v3.5M55.83,247.1v-3.5M55.83,9.8v3.5M60.61,247.1v-3.5M60.61,9.8v3.5M64.83,247.1v-3.5M64.83,9.8v3.5M68.60,247.1v-7M68.60,9.8v7M93.42,247.1v-3.5M93.42,9.8v3.5M107.94,247.1v-3.5M107.94,9.8v3.5M118.24,247.1v-3.5M118.24,9.8v3.5M126.23,247.1v-3.5M126.23,9.8v3.5M132.76,247.1v-3.5M132.76,9.8v3.5M138.28,247.1v-3.5M138.28,9.8v3.5M143.06,247.1v-3.5M143.06,9.8v3.5M147.28,247.1v-3.5M147.28,9.8v3.5M151.05,247.1v-7M151.05,9.8v7M175.87,247.1v-3.5M175.87,9.8v3.5M190.39,247.1v-3.5M190.39,9.8v3.5M200.69,247.1v-3.5M200.69,9.8v3.5M208.68,247.1v-3.5M208.68,9.8v3.5M215.21,247.1v-3.5M215.21,9.8v3.5M220.73,247.1v-3.5M220.73,9.8v3.5M225.51,247.1v-3.5M225.51,9.8v3.5M229.73,247.1v-3.5M229.73,9.8v3.5M233.50,247.1v-7M233.50,9.8v7M258.32,247.1v-3.5M258.32,9.8v3.5M272.84,247.1v-3.5M272.84,9.8v3.5M283.14,247.1v-3.5M283.14,9.8v3.5M291.13,247.1v-3.5M291.13,9.8v3.5M297.66,247.1v-3.5M297.66,9.8v3.5M303.18,247.1v-3.5M303.18,9.8v3.5M307.96,247.1v-3.5M307.96,9.8v3.5M312.18,247.1v-3.5M312.18,9.8v3.5M315.95,247.1v-7M315.95,9.8v7M340.77,247.1v-3.5M340.77,9.8v3.5M355.29,247.1v-3.5M355.29,9.8v3.5M365.59,247.1v-3.5M365.59,9.8v3.5M373.58,247.1v-3.5M373.58,9.8v3.5M380.11,247.1v-3.5M380.11,9.8v3.5M385.63,247.1v-3.5M385.63,9.8v3.5M390.41,247.1v-3.5M390.41,9.8v3.5M394.63,247.1v-3.5M394.63,9.8v3.5M398.40,247.1v-7M398.40,9.8v7M44.2,247.10h7M398.45,247.10h-7M44.2,220.65h3.5M398.45,220.65h-3.5M44.2,205.18h3.5M398.45,205.18h-3.5M44.2,194.21h3.5M398.45,194.21h-3.5M44.2,185.70h3.5M398.45,185.70h-3.5M44.2,178.74h3.5M398.45,178.74h-3.5M44.2,172.86h3.5M398.45,172.86h-3.5M44.2,167.76h3.5M398.45,167.76h-3.5M44.2,163.27h3.5M398.45,163.27h-3.5M44.2,159.25h7M398.45,159.25h-7M44.2,132.80h3.5M398.45,132.80h-3.5M44.2,117.33h3.5M398.45,117.33h-3.5M44.2,106.36h3.5M398.45,106.36h-3.5M44.2,97.85h3.5M398.45,97.85h-3.5M44.2,90.89h3.5M398.45,90.89h-3.5M44.2,85.01h3.5M398.45,85.01h-3.5M44.2,79.91h3.5M398.45,79.91h-3.5M44.2,75.42h3.5M398.45,75.42h-3.5M44.2,71.40h7M398.45,71.40h-7M44.2,44.95h3.5M398.45,44.95h-3.5M44.2,29.48h3.5M398.45,29.48h-3.5M44.2,18.51h3.5M398.45,18.51h-3.5M44.2,10.00h3.5M398.45,10.00h-3.5" stroke="#1a1a1a" stroke-width="0.9" fill="none"/>
<rect x="44.2" y="9.8" width="354.25" height="237.29999999999998" fill="none" stroke="#1a1a1a" stroke-width="1.1"/>
<path d="M153.2,178.7H176.4M153.2,176.7v4M176.4,176.7v4" stroke="#0000ff" stroke-width="1.3" fill="none"/>
<rect x="163.2" y="177.1" width="3.2" height="3.2" fill="#0000ff"/>
<path d="M153.2,201.5H176.4M153.2,199.5v4M176.4,199.5v4" stroke="#00ff00" stroke-width="1.3" fill="none"/>
<rect x="163.2" y="199.9" width="3.2" height="3.2" fill="#00ff00"/>
<path d="M153.2,223.9H176.4M153.2,221.9v4M176.4,221.9v4" stroke="#ff0000" stroke-width="1.3" fill="none"/>
<rect x="163.2" y="222.3" width="3.2" height="3.2" fill="#ff0000"/>
<g style="filter:grayscale(1)">
<text transform="translate(57.20,263.80) scale(0.91,1)" font-size="14.3">10</text>
<text transform="translate(70.60,257.70) scale(0.85,1)" font-size="11.3">11</text>
<text transform="translate(139.65,263.80) scale(0.91,1)" font-size="14.3">10</text>
<text transform="translate(153.05,257.70) scale(0.85,1)" font-size="11.3">12</text>
<text transform="translate(222.10,263.80) scale(0.91,1)" font-size="14.3">10</text>
<text transform="translate(235.50,257.70) scale(0.85,1)" font-size="11.3">13</text>
<text transform="translate(304.55,263.80) scale(0.91,1)" font-size="14.3">10</text>
<text transform="translate(317.95,257.70) scale(0.85,1)" font-size="11.3">14</text>
<text transform="translate(387.00,263.80) scale(0.91,1)" font-size="14.3">10</text>
<text transform="translate(400.40,257.70) scale(0.85,1)" font-size="11.3">15</text>
<text transform="translate(21.30,252.70) scale(0.91,1)" font-size="14.3">10</text>
<text transform="translate(34.00,246.80) scale(0.85,1)" font-size="11.3">7</text>
<text transform="translate(21.30,164.85) scale(0.91,1)" font-size="14.3">10</text>
<text transform="translate(34.00,158.95) scale(0.85,1)" font-size="11.3">8</text>
<text transform="translate(21.30,77.00) scale(0.91,1)" font-size="14.3">10</text>
<text transform="translate(34.00,71.10) scale(0.85,1)" font-size="11.3">9</text>
<text x="93.6" y="149" font-size="15.4" text-anchor="start" word-spacing="0.2">z = 0.0</text>
<text transform="translate(60.50,180.80) scale(1,1)" font-size="14">Σ</text>
<text transform="translate(68.70,184.80) scale(1,1)" font-size="12">i</text>
<text transform="translate(74.70,180.80) scale(0.92,1)" font-size="14">m</text>
<text transform="translate(85.00,184.80) scale(1.1,1)" font-size="12.5">ν</text>
<text transform="translate(90.90,187.80) scale(1,1)" font-size="9">i</text>
<text transform="translate(95.60,180.80) scale(1,1)" font-size="14">=</text>
<text transform="translate(106.50,180.80) scale(1,1)" font-size="14">0.60</text>
<text transform="translate(133.20,180.80) scale(0.97,1)" font-size="14">eV</text>
<text transform="translate(60.50,203.30) scale(1,1)" font-size="14">Σ</text>
<text transform="translate(68.70,207.30) scale(1,1)" font-size="12">i</text>
<text transform="translate(74.70,203.30) scale(0.92,1)" font-size="14">m</text>
<text transform="translate(85.00,207.30) scale(1.1,1)" font-size="12.5">ν</text>
<text transform="translate(90.90,210.30) scale(1,1)" font-size="9">i</text>
<text transform="translate(95.60,203.30) scale(1,1)" font-size="14">=</text>
<text transform="translate(106.50,203.30) scale(1,1)" font-size="14">0.30</text>
<text transform="translate(133.20,203.30) scale(0.97,1)" font-size="14">eV</text>
<text transform="translate(60.50,225.80) scale(1,1)" font-size="14">Σ</text>
<text transform="translate(68.70,229.80) scale(1,1)" font-size="12">i</text>
<text transform="translate(74.70,225.80) scale(0.92,1)" font-size="14">m</text>
<text transform="translate(85.00,229.80) scale(1.1,1)" font-size="12.5">ν</text>
<text transform="translate(90.90,232.80) scale(1,1)" font-size="9">i</text>
<text transform="translate(95.60,225.80) scale(1,1)" font-size="14">=</text>
<text transform="translate(106.50,225.80) scale(1,1)" font-size="14">0.00</text>
<text transform="translate(133.20,225.80) scale(0.97,1)" font-size="14">eV</text>
<text transform="translate(193.10,280.80) scale(0.91,1)" font-size="14.8">M</text>
<text transform="translate(208.60,280.80) scale(0.91,1)" font-size="14.8">[h</text>
<text transform="translate(220.00,273.80) scale(0.84,1)" font-size="11.5">-1</text>
<text transform="translate(231.30,280.80) scale(0.91,1)" font-size="14.8">M</text>
<text transform="translate(247.30,280.80) scale(0.91,1)" font-size="14.8">]</text>
<circle cx="244.5" cy="283.0" r="1.8" fill="none" stroke="#000" stroke-width="0.7"/><circle cx="244.5" cy="283.0" r="0.6" fill="#000"/>
<g transform="translate(11.2,203.2) rotate(-90)">
<text x="0.0" y="0" font-size="14" textLength="11.4" lengthAdjust="spacingAndGlyphs">M</text>
<text x="15.0" y="0" font-size="14" textLength="13.4" lengthAdjust="spacingAndGlyphs">dn</text>
<text x="31.1" y="0" font-size="14">/</text>
<text x="39.5" y="0" font-size="14" textLength="27.8" lengthAdjust="spacingAndGlyphs">dlnM</text>
<text x="70.2" y="0" font-size="14">[</text>
<text x="76.4" y="0" font-size="14" textLength="6.6" lengthAdjust="spacingAndGlyphs">h</text>
<text x="82.3" y="-6" font-size="10.5">2</text>
<text x="90.8" y="0" font-size="14" textLength="11.4" lengthAdjust="spacingAndGlyphs">M</text>
<circle cx="103.9" cy="1.3" r="1.9" fill="none" stroke="#000" stroke-width="0.7"/><circle cx="103.9" cy="1.3" r="0.6" fill="#000"/>
<text x="110.0" y="0" font-size="14" textLength="22.6" lengthAdjust="spacingAndGlyphs">Mpc</text>
<text x="132.6" y="-6" font-size="10.5">-3</text>
<text x="140.6" y="0" font-size="14">]</text>
</g>
</g>
</svg>
</body></html>
